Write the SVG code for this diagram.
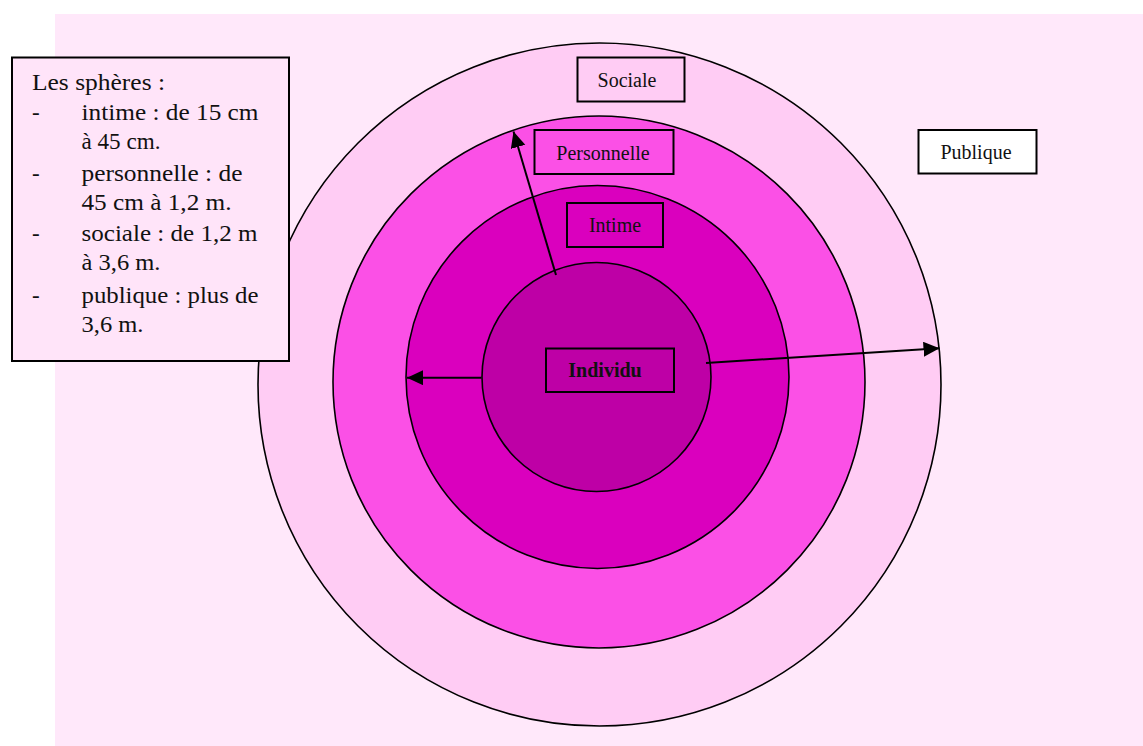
<svg xmlns="http://www.w3.org/2000/svg" width="1143" height="746" viewBox="0 0 1143 746">
  <style>
    .ring { stroke: #000; stroke-width: 1.6; }
    .box { stroke: #000; stroke-width: 2; }
    .lbl { font-family: "Liberation Serif", "Times New Roman", serif; font-size: 20px; fill: #111; text-anchor: middle; }
    .leg { font-family: "Liberation Serif", "Times New Roman", serif; font-size: 23px; fill: #111; }
    .conn { stroke: #000; stroke-width: 2; fill: none; }
  </style>
  <defs>
    <marker id="arrow" markerUnits="userSpaceOnUse" markerWidth="18" markerHeight="16" refX="16" refY="7.5" orient="auto">
      <path d="M0,0 L16,7.5 L0,15 Z" fill="#000"/>
    </marker>
  </defs>
  <rect x="0" y="0" width="1143" height="746" fill="#ffffff"/>
  <rect id="background" x="55" y="14" width="1088" height="732" fill="#FFE8FA"/>

  <g id="publique-sphere">
    <circle class="ring" cx="599.5" cy="384.5" r="341.5" fill="#FFCCF4"/>
  </g>
  <g id="personnelle-sphere">
    <circle class="ring" cx="599" cy="382" r="266" fill="#FB50E6"/>
  </g>
  <g id="intime-sphere">
    <circle class="ring" cx="597.5" cy="377" r="191.5" fill="#DA00BE"/>
  </g>
  <g id="individu-sphere">
    <circle class="ring" cx="596.5" cy="377" r="114.5" fill="#BE00A6"/>
  </g>

  <g id="connectors">
    <line class="conn" x1="481.5" y1="377.7" x2="407" y2="377.7" marker-end="url(#arrow)"/>
    <line class="conn" x1="706" y1="363" x2="939.5" y2="348.3" marker-end="url(#arrow)"/>
    <line class="conn" x1="556" y1="275" x2="513.5" y2="131.5" marker-end="url(#arrow)"/>
  </g>

  <g id="label-sociale">
    <rect class="box" x="577.5" y="57.5" width="107" height="44" fill="#FFCCF4"/>
    <text class="lbl" x="627" y="86.5">Sociale</text>
  </g>
  <g id="label-personnelle">
    <rect class="box" x="534.5" y="130" width="139" height="44" fill="#FB50E6"/>
    <text class="lbl" x="603" y="159.5">Personnelle</text>
  </g>
  <g id="label-intime">
    <rect class="box" x="567" y="203" width="96" height="44" fill="#DA00BE"/>
    <text class="lbl" x="615" y="232">Intime</text>
  </g>
  <g id="label-publique">
    <rect class="box" x="918.5" y="130" width="118" height="43.5" fill="#ffffff"/>
    <text class="lbl" x="976" y="158.5">Publique</text>
  </g>
  <g id="label-individu">
    <rect class="box" x="546" y="348.5" width="128" height="43.5" fill="#BE00A6"/>
    <text class="lbl" x="605" y="377" font-weight="bold">Individu</text>
  </g>

  <g id="legend">
    <rect class="box" x="12" y="57.5" width="277" height="303.5" fill="#FFE4F9"/>
    <text class="leg" x="32" y="90" textLength="133" lengthAdjust="spacingAndGlyphs">Les sphères :</text>
    <text class="leg" x="32" y="120">-</text>
    <text class="leg" x="81.5" y="120" textLength="177" lengthAdjust="spacingAndGlyphs">intime : de 15 cm</text>
    <text class="leg" x="81.5" y="149" textLength="79" lengthAdjust="spacingAndGlyphs">à 45 cm.</text>
    <text class="leg" x="32" y="181">-</text>
    <text class="leg" x="81.5" y="181" textLength="161" lengthAdjust="spacingAndGlyphs">personnelle : de</text>
    <text class="leg" x="81.5" y="210" textLength="150" lengthAdjust="spacingAndGlyphs">45 cm à 1,2 m.</text>
    <text class="leg" x="32" y="241">-</text>
    <text class="leg" x="81.5" y="241" textLength="176" lengthAdjust="spacingAndGlyphs">sociale : de 1,2 m</text>
    <text class="leg" x="81.5" y="270" textLength="79" lengthAdjust="spacingAndGlyphs">à 3,6 m.</text>
    <text class="leg" x="32" y="303">-</text>
    <text class="leg" x="81.5" y="303" textLength="177" lengthAdjust="spacingAndGlyphs">publique : plus de</text>
    <text class="leg" x="81.5" y="332" textLength="62" lengthAdjust="spacingAndGlyphs">3,6 m.</text>
  </g>
</svg>
